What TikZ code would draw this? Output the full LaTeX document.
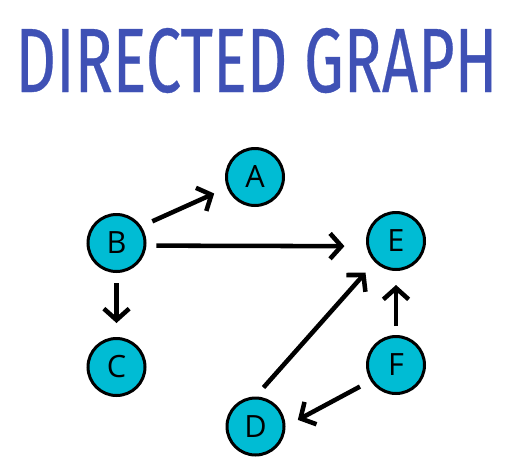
\documentclass[tikz,border=0pt]{standalone}
\usepackage{fontspec}
\setmainfont{Open Sans}
\newfontfamily\titlefont{Fira Sans}[FakeBold=0.4]
\usetikzlibrary{arrows.meta}
\definecolor{graphcyan}{HTML}{00BCD4}
\definecolor{titleblue}{HTML}{3F51B5}

\begin{document}
\begin{tikzpicture}[
            x=0.75pt, y=-0.75pt,
            main node/.style={circle,draw,line width=2.25pt,fill=graphcyan,
                minimum size=42.75pt,inner sep=0pt,font=\fontsize{23}{23}\selectfont},
            link/.style={line width=3.4pt,-{Straight Barb[length=8.5pt,width=19pt]},
                shorten <=9pt,shorten >=10.5pt}]
    \useasboundingbox (0,0) rectangle (513,475);
            % Title
    \node[anchor=base,text=titleblue,inner sep=0pt] (title) at (256.5,92)
        {\resizebox{361.5pt}{48pt}{\titlefont DIRECTED GRAPH}};
            % Define vertices
    \node[main node] (A) at (255,177) {A};
    \node[main node] (B) at (116.5,243) {B};
    \node[main node] (C) at (116.5,367) {C};
    \node[main node] (D) at (255.5,426.5) {D};
    \node[main node] (E) at (396,241) {E};
    \node[main node] (F) at (396,365) {F};
            % Define edges
    \draw[link] (B.34) -- (A.201);
    \draw[link,shorten <=7.5pt,shorten >=16.5pt] (B.-5) -- (E.190);
    \draw[link,shorten <=7.5pt] (B.south) -- (C.north);
    \draw[link] (D.north) -- (E.south west);
    \draw[link,shorten <=6.75pt] (F.north) -- (E.south);
    \draw[link] (F.212) -- (D.east);
\end{tikzpicture}
\end{document}
